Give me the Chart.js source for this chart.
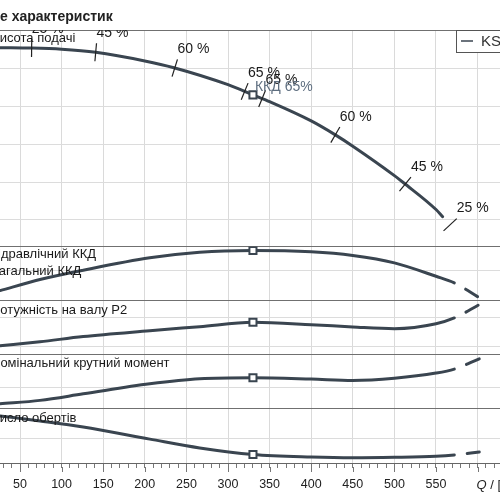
<!DOCTYPE html>
<html>
<head>
<meta charset="utf-8">
<script src="https://cdn.jsdelivr.net/npm/chart.js@4.4.0/dist/chart.umd.min.js"></script>
<style>
  html, body { margin: 0; padding: 0; background: #fff; overflow: hidden; }
  #wrap { position: absolute; left: -40px; top: 0; width: 589px; height: 500px; }
</style>
</head>
<body>
<div id="wrap"><canvas id="grafico"></canvas></div>
<script>
// Q-H curve
const qHead = [26, 64, 100, 141, 200, 235, 300, 330, 350, 400, 429, 450, 500, 511, 550, 558];
const head  = [85.6, 85.5, 85.2, 84.4, 82.1, 80.3, 75.8, 73.1, 71.3, 66.2, 62.5, 59.5, 51.7, 49.8, 42.7, 40.8];

// lower panels share the same Q points
const qLow   = [26, 74, 126, 206, 266, 330, 400, 450, 500, 550, 572, 602];
const eta    = [16.7, 35, 50.5, 71.2, 80.5, 83.3, 81.1, 75, 62.8, 40.5, 29.5, 5];
const power  = [60.3, 61.7, 63.5, 65.5, 66.9, 68.4, 67.6, 66.8, 66.2, 67.9, 69.9, 74.5];
const torque = [9.3, 15.7, 27.8, 46.3, 55.6, 57.4, 55.0, 52.4, 56.5, 66.1, 73.5, 92.6];
const speed  = [78.3, 70, 60, 39.7, 25, 14.2, 10, 8.8, 9.5, 11.2, 13.3, 18.3];

const dutyQ = 330;
const dashFrom = 572;

// efficiency marks on the Q-H curve
const markQ     = [64, 141, 236, 320, 341, 429, 513, 567];
const markLabel = ['25 %', '45 %', '60 %', '65 %', '65 %', '60 %', '45 %', '25 %'];
const dutyLabel = 'ККД 65%';

// gridline values per panel
const headGrid   = [32.9, 40, 50, 60, 70, 80, 90.3];
const etaGrid    = [0, 50, 90];
const powerGrid  = [57.24, 60, 70, 75.86];
const torqueGrid = [0, 40, 100];
const speedGrid  = [0, 40, 90];

const panelLabels = ['Висота подачі', 'Гідравлічний ККД', 'Загальний ККД', 'Потужність на валу P2', 'Номінальний крутний момент', 'Число обертів'];
const title = 'е характеристик';
const legendLabel = 'KS';
const xLabelQ = 'Q';
const xLabelUnit = ' / [м³/год]';

const lineColor = '#3a4550';
const font = '"Liberation Sans", Arial, sans-serif';
Chart.defaults.font.family = font;

function toXY(xs, ys) {
  return xs.map((q, i) => ({ x: q, y: ys[i] }));
}

function curve(label, xs, ys, axis) {
  return {
    label: label,
    data: toXY(xs, ys),
    yAxisID: axis,
    borderColor: lineColor,
    borderWidth: 3,
    borderCapStyle: 'round',
    fill: false,
    cubicInterpolationMode: 'monotone',
    pointStyle: 'rect',
    pointBackgroundColor: '#fff',
    pointBorderColor: lineColor,
    pointBorderWidth: 2,
    pointRadius: c => (c.raw && c.raw.x === dutyQ) ? 5 : 0,
    pointHoverRadius: 0,
    segment: {
      // beyond the end of the operating range: a gap, then one dash
      borderDash: c => c.p0.parsed.x >= dashFrom ? [14, 13] : undefined,
      borderDashOffset: c => c.p0.parsed.x >= dashFrom ? 14 : undefined
    }
  };
}

const gridColor = c => (c.index === 0 || c.index === c.scale.ticks.length - 1) ? '#707070' : '#dcdcdc';

function panelAxis(grid, weight, stackWeight) {
  return {
    type: 'linear',
    position: 'left',
    stack: 'panels',
    stackWeight: stackWeight,
    weight: weight,
    min: grid[0],
    max: grid[grid.length - 1],
    afterBuildTicks: s => { s.ticks = grid.map(v => ({ value: v })); },
    afterFit: s => { s.width = 0; },
    ticks: { display: false },
    grid: { color: gridColor, drawTicks: false, lineWidth: 1 },
    border: { display: false }
  };
}

const overlay = {
  id: 'overlay',
  afterDatasetsDraw(chart) {
    const { ctx, chartArea, scales } = chart;
    const x = scales.x, yH = scales.yH;
    const pageLeft = 40;

    const pts = qHead.map((q, i) => ({ px: x.getPixelForValue(q), py: yH.getPixelForValue(head[i]) }));
    function at(q) {
      const px = x.getPixelForValue(q);
      let i = 0;
      while (i < pts.length - 2 && pts[i + 1].px < px) i++;
      const a = pts[i], b = pts[i + 1];
      const t = (px - a.px) / (b.px - a.px);
      return { px: px, py: a.py + t * (b.py - a.py), dx: b.px - a.px, dy: b.py - a.py };
    }

    ctx.save();
    ctx.beginPath();
    ctx.rect(chartArea.left, chartArea.top, chartArea.width, chartArea.height);
    ctx.clip();

    // efficiency marks
    ctx.strokeStyle = '#222';
    ctx.lineWidth = 1.2;
    ctx.fillStyle = '#1a1a1a';
    ctx.font = '14px ' + font;
    ctx.textAlign = 'left';
    ctx.textBaseline = 'middle';
    markQ.forEach((q, i) => {
      const p = at(q);
      const len = Math.hypot(p.dx, p.dy);
      const nx = p.dy / len * 9, ny = -p.dx / len * 9;
      ctx.beginPath();
      ctx.moveTo(p.px - nx, p.py - ny);
      ctx.lineTo(p.px + nx, p.py + ny);
      ctx.stroke();
      ctx.fillText(markLabel[i], p.px + nx, p.py + ny - 10);
    });

    // duty point label
    ctx.fillStyle = '#5f6f80';
    ctx.fillText(dutyLabel, x.getPixelForValue(dutyQ) + 2, yH.getPixelForValue(head[qHead.indexOf(dutyQ)]) - 8);

    // panel labels
    ctx.fillStyle = '#1a1a1a';
    ctx.font = '13px ' + font;
    const place = [['yH', 8], ['yE', 8], ['yE', 25], ['yP', 10], ['yT', 9], ['yN', 10]];
    panelLabels.forEach((t, i) => {
      const s = scales[place[i][0]];
      ctx.fillText(t, pageLeft - 9, s.top + place[i][1]);
    });

    // legend box
    const bx = pageLeft + 456, by = chartArea.top;
    ctx.fillStyle = '#fff';
    ctx.fillRect(bx, by, 130, 22);
    ctx.strokeStyle = '#555';
    ctx.lineWidth = 1;
    ctx.strokeRect(bx + 0.5, by + 0.5, 130, 22);
    ctx.strokeStyle = lineColor;
    ctx.lineWidth = 1.5;
    ctx.beginPath();
    ctx.moveTo(bx + 5, by + 11);
    ctx.lineTo(bx + 17, by + 11);
    ctx.stroke();
    ctx.fillStyle = '#333';
    ctx.font = '15px ' + font;
    ctx.fillText(legendLabel, bx + 25, by + 11.5);
    ctx.restore();
  },
  afterDraw(chart) {
    const { ctx, chartArea, scales } = chart;
    const x = scales.x;
    const pageLeft = 40;
    ctx.save();
    // longer ticks at labelled values
    ctx.strokeStyle = '#777';
    ctx.lineWidth = 1;
    for (let v = 50; v <= 650; v += 50) {
      const px = Math.round(x.getPixelForValue(v)) + 0.5;
      ctx.beginPath();
      ctx.moveTo(px, chartArea.bottom + 4);
      ctx.lineTo(px, chartArea.bottom + 9);
      ctx.stroke();
    }
    // axis unit label at Q = 600
    ctx.fillStyle = '#222';
    ctx.textBaseline = 'middle';
    ctx.textAlign = 'left';
    const qx = x.getPixelForValue(600) - 1;
    ctx.font = 'italic 13px ' + font;
    ctx.fillText(xLabelQ, qx, 485);
    const w = ctx.measureText(xLabelQ).width;
    ctx.font = '13px ' + font;
    ctx.fillText(xLabelUnit, qx + w, 485);
    // title
    ctx.font = 'bold 14px ' + font;
    ctx.fillText(title, pageLeft, 17);
    ctx.restore();
  }
};

new Chart(document.getElementById('grafico'), {
  type: 'line',
  data: {
    datasets: [
      curve('H', qHead, head, 'yH'),
      curve('eta', qLow, eta, 'yE'),
      curve('P2', qLow, power, 'yP'),
      curve('M', qLow, torque, 'yT'),
      curve('n', qLow, speed, 'yN')
    ]
  },
  options: {
    responsive: true,
    maintainAspectRatio: false,
    devicePixelRatio: 1,
    animation: false,
    layout: { padding: { left: 18.4, top: 30, right: 0, bottom: 0 } },
    plugins: { legend: { display: false }, tooltip: { enabled: false } },
    scales: {
      x: {
        type: 'linear',
        min: 0,
        max: 675,
        afterFit: s => { s.height = 37; },
        ticks: {
          stepSize: 10,
          autoSkip: false,
          maxRotation: 0,
          minRotation: 0,
          padding: 9,
          color: '#222',
          font: { size: 12.5 },
          callback: v => (v % 50 === 0 && v >= 50 && v <= 550) ? String(v) : ''
        },
        grid: {
          color: c => (c.tick && c.tick.value % 50 === 0) ? '#dadada' : 'rgba(0,0,0,0)',
          tickColor: '#777',
          tickLength: 5,
          lineWidth: 1
        },
        border: { color: '#666' }
      },
      yH: panelAxis(headGrid, 5, 4),
      yE: panelAxis(etaGrid, 4, 1),
      yP: panelAxis(powerGrid, 3, 1),
      yT: panelAxis(torqueGrid, 2, 1),
      yN: panelAxis(speedGrid, 1, 1)
    }
  },
  plugins: [overlay]
});
</script>
</body>
</html>
